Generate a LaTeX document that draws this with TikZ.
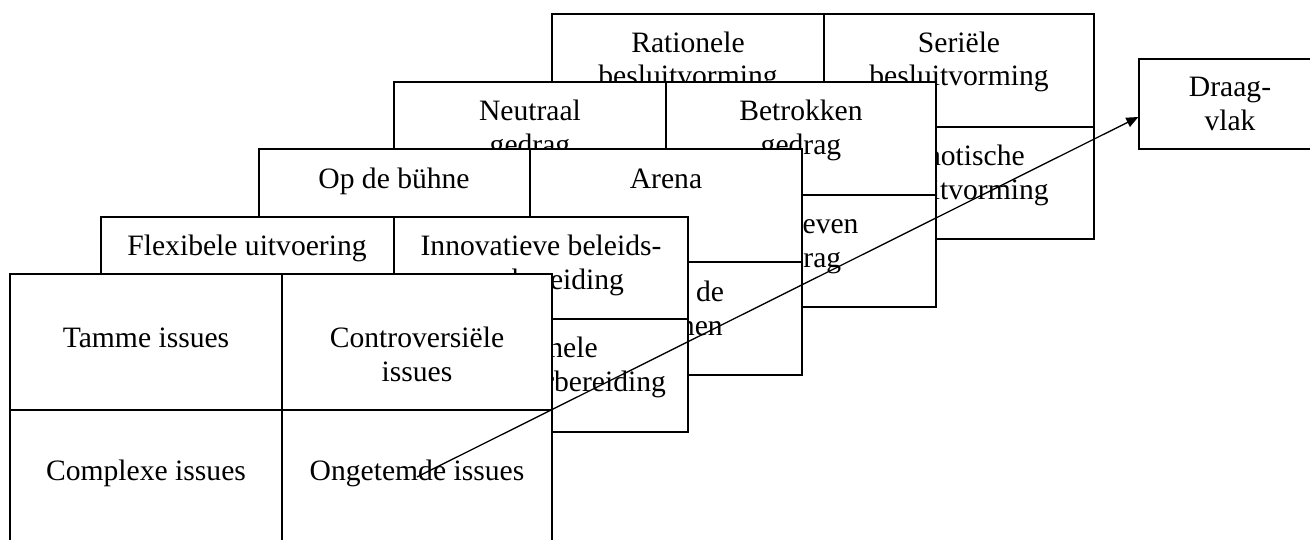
\documentclass[tikz,border=0pt]{standalone}
\usepackage{fontspec}
\setmainfont{Liberation Serif}
\usetikzlibrary{arrows.meta,calc}
\tikzset{
  cel/.style={anchor=base, align=center, inner sep=0pt, font=\fontsize{14.8}{17}\selectfont},
  laag/.style={fill=white},
}

\begin{document}
\begin{tikzpicture}[x=0.5pt,y=-0.5pt,line width=0.65pt]
\useasboundingbox (0,0) rectangle (1310,540);

% besluitvorming (base = last line)
\filldraw[laag] (552,14) rectangle (1094,239);
\draw (824,14) -- (824,239);
\draw (552,127) -- (1094,127);
\node[cel] (rationeel) at (688,86) {Rationele\\besluitvorming};
\node[cel] (serieel) at (959,86) {Seriële\\besluitvorming};
\node[cel] (chaotisch) at (959,199) {Chaotische\\besluitvorming};

% gedrag
\filldraw[laag] (394,82) rectangle (936,307);
\draw (666,82) -- (666,307);
\draw (394,195) -- (936,195);
\node[cel] (neutraal) at (530,154) {Neutraal\\gedrag};
\node[cel] (betrokken) at (801,154) {Betrokken\\gedrag};
\node[cel] (gedreven) at (801,267) {Gedreven\\gedrag};

% arena
\filldraw[laag] (259,149) rectangle (802,375);
\draw (530,149) -- (530,375);
\draw (259,262) -- (802,262);
\node[cel] (buhne) at (394,188) {Op de bühne};
\node[cel] (arena) at (666,188) {Arena};
\node[cel] (schermen) at (666,335) {Achter de\\schermen};

% beleidsvoorbereiding
\filldraw[laag] (101,217) rectangle (688,432);
\draw (394,217) -- (394,432);
\draw (101,319) -- (688,319);
\node[cel] (flexibel) at (247,255) {Flexibele uitvoering};
\node[cel] (innovatief) at (541,289) {Innovatieve beleids-\\voorbereiding};
\node[cel] (rationeelvb) at (541,391) {Rationele\\beleidsvoorbereiding};

% issues
\filldraw[laag] (10,274) rectangle (552,546);
\draw (282,274) -- (282,546);
\draw (10,410) -- (552,410);
\node[cel] (tamme) at (146,347) {Tamme issues};
\node[cel] (controversieel) at (417,381) {Controversiële\\issues};
\node[cel] (complexe) at (146,480) {Complexe issues};
\node[cel] (ongetemde) at (417,480) {Ongetemde issues};

% draagvlak
\node[draw, fill=white, minimum width=91pt, minimum height=45pt, align=center, inner sep=0pt,
  font=\fontsize{14.8}{17}\selectfont] (draagvlak) at (1230,104) {Draag-\\vlak};

\draw[-{Triangle[length=6pt,width=5pt]}] ([yshift=-2pt]ongetemde.center) -- ([yshift=-6.5pt]draagvlak.west);
\end{tikzpicture}
\end{document}
